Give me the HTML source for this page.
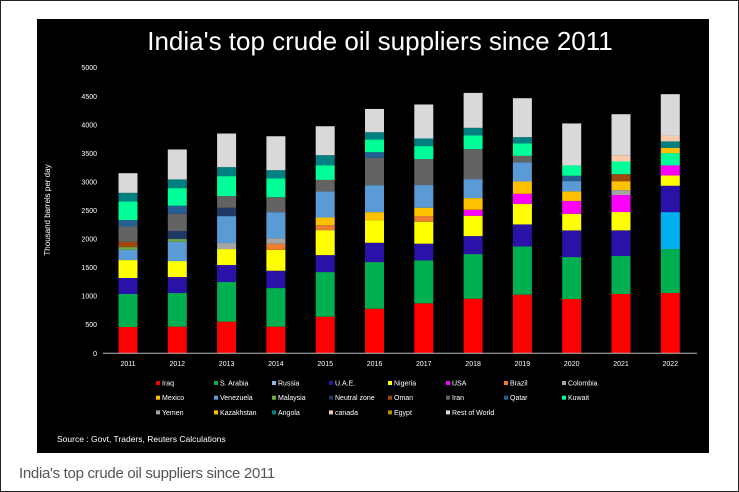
<!DOCTYPE html>
<html><head><meta charset="utf-8">
<style>
body{margin:0;width:739px;height:492px;background:#fff;font-family:"Liberation Sans",sans-serif;overflow:hidden}
#frame{position:absolute;left:0;top:0;width:737px;height:490px;border:1px solid #222}
#panel{position:absolute;left:37px;top:19px;width:672px;height:434px;background:#000}
#caption{position:absolute;left:19px;top:465px;font-size:15px;color:#555;letter-spacing:-0.3px}
</style></head><body>
<div id="frame"></div>
<div id="panel"></div>
<svg id="chart" width="739" height="492" style="position:absolute;left:0;top:0"></svg>
<div id="caption">India's top crude oil suppliers since 2011</div>
<script>
const years=['2011','2012','2013','2014','2015','2016','2017','2018','2019','2020','2021','2022'];
const yTicks=[0,500,1000,1500,2000,2500,3000,3500,4000,4500,5000];
const seriesNames=['Iraq','S. Arabia','Russia','U.A.E.','Nigeria','USA','Brazil','Colombia','Mexico','Venezuela','Malaysia','Neutral zone','Oman','Iran','Qatar','Kuwait','Yemen','Kazakhstan','Angola','canada','Egypt','Rest of World'];
const seriesColors=['#FF0000','#00B050','#00B0F0','#2A12A8','#FFFF00','#FF00FF','#ED7D31','#A5A5A5','#FFC000','#5B9BD5','#70AD47','#203864','#9E480E','#636363','#255E91','#00FF99','#7F7F7F','#FFC000','#008080','#F8CBAD','#BF9000','#D9D9D9'];
const legendColors=['#FF0000','#00B050','#8DB4E2','#2A12A8','#FFFF00','#FF00FF','#ED7D31','#A5A5A5','#FFC000','#5B9BD5','#70AD47','#203864','#9E480E','#636363','#255E91','#00FF99','#A5A5A5','#FFC000','#008080','#F8CBAD','#BF9000','#D9D9D9'];
const iraq=[460,466,554,466,641,781,875,956,1026,950,1038,1055];
const saudi=[578,589,694,676,781,816,752,781,845,735,665,770];
const russia=[0,0,0,0,0,0,0,0,0,0,0,647];
const uae=[280,280,297,303,297,338,292,315,385,466,449,461];
const nigeria=[314,280,280,367,437,396,385,356,361,292,321,181];
const usa=[0,0,0,0,0,0,0,105,175,222,297,175];
const brazil=[0,0,0,105,87,0,99,0,0,0,0,0];
const colombia=[0,0,105,99,0,0,0,0,0,0,87,0];
const mexico=[0,0,0,0,134,140,146,204,216,169,157,0];
const venezuela=[180,338,472,455,455,472,396,332,338,181,0,0];
const malaysia=[47,47,0,0,0,0,0,0,0,0,0,0];
const neutralZone=[0,140,146,0,0,0,0,0,0,0,0,0];
const oman=[93,0,0,0,0,0,0,0,0,0,122,0];
const iran=[268,303,204,262,204,478,455,525,111,0,0,0];
const qatar=[111,140,0,0,0,99,0,0,0,93,0,0];
const kuwait=[326,309,350,332,257,222,227,239,216,181,222,216];
const yemen=[0,0,0,0,0,0,0,0,0,0,0,0];
const kazakhstan=[0,0,0,0,0,0,0,0,0,0,0,93];
const angola=[152,152,157,140,175,128,134,134,111,0,0,111];
const canada=[0,0,0,0,0,0,0,0,0,0,111,105];
const egypt=[0,0,0,0,0,0,0,0,0,0,0,0];
const restOfWorld=[344,525,589,595,507,408,595,612,682,735,717,723];
const seriesValues=[iraq,saudi,russia,uae,nigeria,usa,brazil,colombia,mexico,venezuela,malaysia,neutralZone,oman,iran,qatar,kuwait,yemen,kazakhstan,angola,canada,egypt,restOfWorld];

const NS='http://www.w3.org/2000/svg';
const svg=document.getElementById('chart');
function mk(tag,attrs,parent){const e=document.createElementNS(NS,tag);for(const k in attrs)e.setAttribute(k,attrs[k]);(parent||svg).appendChild(e);return e;}
const y0=353.3,yTop=67.7,vMax=5000;
function yScale(v){return y0-(v/vMax)*(y0-yTop);}
function xScale(i){return 128+i*49.3;}
const barW=19;

const title=mk('text',{x:380,y:50,'text-anchor':'middle','font-size':26,fill:'#fff','font-family':'Liberation Sans, sans-serif'});


title.textContent="India's top crude oil suppliers since 2011";

yTicks.forEach(t=>{
  const tx=mk('text',{x:97,y:yScale(t)+2.5,'text-anchor':'end','font-size':7,fill:'#fff'});
  
  
  tx.textContent=t;
});
const yt=mk('text',{transform:'translate(50,210) rotate(-90)','text-anchor':'middle','font-size':8,fill:'#fff'});


yt.textContent='Thousand barrels per day';

years.forEach((yr,i)=>{
  let acc=0;
  seriesValues.forEach((arr,s)=>{
    const v=arr[i];if(!v)return;
    const r=mk('rect',{x:xScale(i)-barW/2,y:yScale(acc+v),width:barW,height:yScale(acc)-yScale(acc+v),fill:seriesColors[s]});
    
    
    acc+=v;
  });
  const tl=mk('text',{x:xScale(i),y:366,'text-anchor':'middle','font-size':7,fill:'#fff'});
  
  
  tl.textContent=yr;
});
const ax=mk('line',{x1:103,x2:697,y1:y0,y2:y0,stroke:'#bbb','stroke-width':1});



const colX=[156,214,272,329,388,446,504,562];
seriesNames.forEach((n,k)=>{
  const cx=colX[k%8],cy=384+Math.floor(k/8)*14.7;
  const g=mk('g',{});
  
  
  mk('rect',{x:cx,y:cy-3,width:4,height:4,fill:legendColors[k]},g);
  const t=mk('text',{x:cx+6,y:cy+1.5,'font-size':7,fill:'#fff'},g);
  t.textContent=n;
});
const src=mk('text',{x:57,y:442,'font-size':8.5,fill:'#fff'});


src.textContent='Source : Govt, Traders, Reuters Calculations';
</script>
</body></html>
